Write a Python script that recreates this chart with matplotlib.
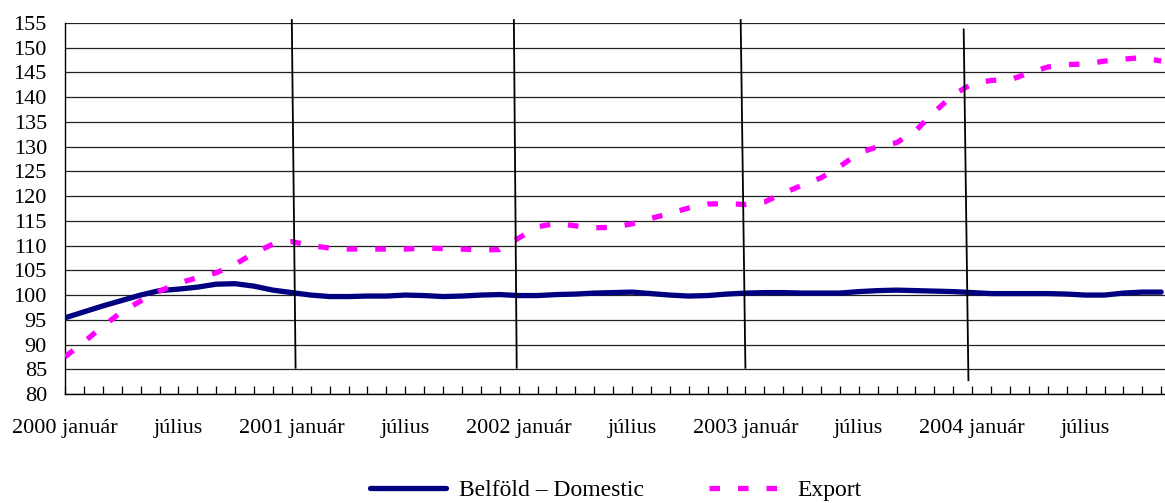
import matplotlib
matplotlib.use("Agg")
import matplotlib.pyplot as plt
import numpy as np

plt.rcParams['font.family'] = ['Liberation Serif', 'DejaVu Serif']

# ---- data (monthly, 2000 January .. 2004 November) ----
domestic = [95.4, 96.6, 97.8, 98.9, 100.0, 100.9, 101.2, 101.6, 102.2, 102.3,
            101.8, 101.0, 100.5, 100.0, 99.7, 99.7, 99.8, 99.8, 100.0, 99.9,
            99.7, 99.8, 100.0, 100.1, 99.9, 99.9, 100.1, 100.2, 100.4, 100.5,
            100.6, 100.3, 100.0, 99.8, 99.9, 100.2, 100.4, 100.5, 100.5, 100.4,
            100.4, 100.4, 100.7, 100.9, 101.0, 100.9, 100.8, 100.7, 100.5, 100.3,
            100.3, 100.3, 100.3, 100.2, 100.0, 100.0, 100.4, 100.6, 100.6]
export = [87.5, 90.5, 93.7, 96.6, 98.8, 100.8, 102.4, 103.5, 104.5, 106.2,
          108.5, 110.3, 110.8, 110.0, 109.5, 109.3, 109.3, 109.3, 109.3, 109.5,
          109.4, 109.3, 109.1, 109.2, 111.5, 113.8, 114.5, 114.0, 113.6, 113.7,
          114.4, 115.5, 116.5, 117.6, 118.4, 118.5, 118.3, 118.8, 120.6, 122.2,
          123.7, 126.0, 128.7, 130.0, 130.8, 133.2, 137.0, 140.5, 142.7, 143.4,
          143.5, 144.9, 146.1, 146.6, 146.7, 147.3, 147.7, 148.0, 147.3]
tick_labels = ["2000 január", "július", "2001 január", "július", "2002 január",
               "július", "2003 január", "július", "2004 január", "július"]
series_names = ["Belföld – Domestic", "Export"]
yticks = list(range(80, 156, 5))

# hand-drawn year separators (top x, top y, bottom x, bottom y) in data units
separators = [(12.0, 155.6, 12.2, 85.3),
              (23.75, 155.6, 23.9, 85.3),
              (35.75, 155.6, 36.0, 85.3),
              (47.55, 153.7, 47.8, 82.8)]

W, H = 1165, 503
fig = plt.figure(figsize=(W / 100, H / 100), dpi=100)
ax = fig.add_axes([65 / W, (H - 394) / H, (W - 65) / W, (394 - 23) / H])

x = np.arange(len(domestic))
ax.plot(x, domestic, color='#000080', lw=3.8, solid_capstyle='round',
        label=series_names[0], zorder=3)
ax.plot(np.arange(len(export)), export, color='#FF00FF', lw=3.8,
        linestyle=(0, (2, 3.4)), dash_capstyle='butt', label=series_names[1], zorder=3)

for (x0, y0, x1, y1) in separators:
    ax.plot([x0, x1], [y0, y1], color='black', lw=1.3, clip_on=False, zorder=4)

ax.set_yticks(yticks)
ax.set_yticklabels([str(v) for v in yticks], fontsize=16)
ax.yaxis.grid(True, color='#222222', lw=0.9)
ax.set_axisbelow(True)

ax.set_xticks(np.arange(0, len(domestic) + 2, 1), minor=True)
ax.set_xticks(np.arange(0, 60, 6))
ax.set_xticklabels(tick_labels, fontsize=16)
ax.tick_params(axis='x', which='both', direction='in', length=5.5, width=0.9,
               color='black', pad=18)
ax.tick_params(axis='y', length=0, pad=13)

ax.set_ylim(80, 155)
ax.set_xlim(0, (W - 65) / 18.9)

for s in ['top', 'right']:
    ax.spines[s].set_visible(False)
ax.spines['left'].set_color('black')
ax.spines['bottom'].set_color('black')
ax.spines['left'].set_linewidth(1.0)
ax.spines['bottom'].set_linewidth(1.0)

leg = fig.legend(loc='center', bbox_to_anchor=(616 / W, 1 - 490 / H), ncol=2,
                 frameon=False, fontsize=17, handlelength=3.2, handletextpad=0.55,
                 columnspacing=2.75, borderpad=0)

fig.savefig('out.png', dpi=100)
